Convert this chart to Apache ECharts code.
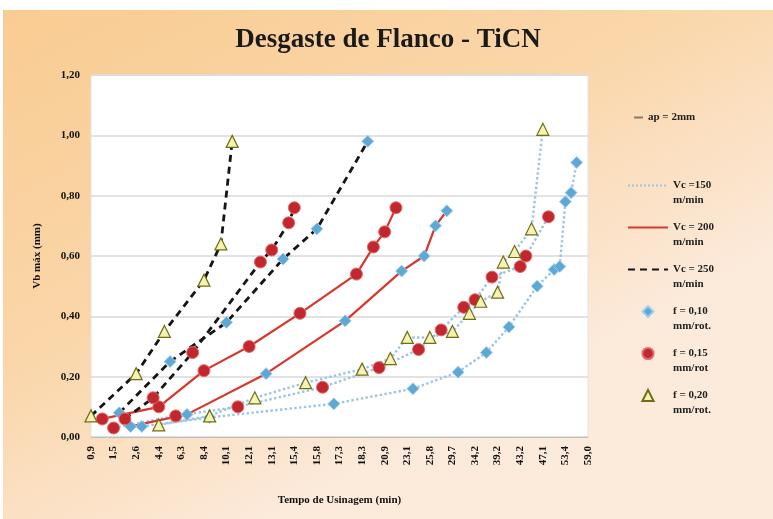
<!DOCTYPE html>
<html><head><meta charset="utf-8">
<script src="https://cdn.jsdelivr.net/npm/echarts@6/dist/echarts.min.js"></script>
<style>
html,body{margin:0;padding:0;background:#fff;}
#c{position:absolute;left:3px;top:10px;width:770px;height:509px;}
</style></head>
<body><div id="c"></div>
<script>
// Time categories (min); every 4th one is labelled on the axis
const categories = ['0.9','1.0','1.2','1.3','1.5','1.8','2.1','2.3','2.6','3.0','3.5','3.9','4.4','4.9','5.3','5.8','6.3','6.8','7.4','7.9','8.4','8.8','9.3','9.7','10.1','10.6','11.1','11.6','12.1','12.3','12.6','12.8','13.1','13.7','14.2','14.8','15.4','15.5','15.6','15.7','15.8','16.2','16.6','16.9','17.3','17.5','17.8','18.0','18.3','18.9','19.6','20.2','20.9','21.4','22.0','22.5','23.1','23.8','24.4','25.1','25.8','26.8','27.7','28.7','29.7','30.8','32.0','33.1','34.2','35.5','36.7','38.0','39.2','40.2','41.2','42.2','43.2','44.2','45.1','46.1','47.1','48.7','50.3','51.8','53.4','54.8','56.2','57.6','59.0'];

// Vb max (mm) series: [time, value]
const vc250_f020 = [['0.9',0.07],['2.6',0.21],['4.9',0.35],['8.4',0.52],['9.7',0.64],['10.6',0.98]];
const vc250_f015 = [['2.1',0.06],['3.9',0.13],['7.4',0.28],['12.6',0.58],['13.1',0.62],['14.8',0.71],['15.4',0.76]];
const vc250_f010 = [['1.8',0.08],['5.3',0.25],['10.1',0.38],['14.2',0.59],['15.8',0.69],['18.9',0.98]];
const vc200_f015 = [['1.2',0.06],['4.4',0.10],['8.4',0.22],['12.1',0.30],['15.5',0.41],['18.0',0.54],['19.6',0.63],['20.9',0.68],['22.0',0.76]];
const vc200_f010 = [['2.3',0.035],['6.8',0.075],['12.8',0.21],['17.5',0.385],['22.5',0.55],['25.1',0.60],['26.8',0.70],['28.7',0.75]];
const vc150_f015 = [['1.5',0.03],['5.8',0.07],['11.1',0.10],['16.2',0.165],['20.2',0.23],['24.4',0.29],['27.7',0.355],['32.0',0.43],['34.2',0.455],['38.0',0.53],['43.2',0.565],['44.2',0.60],['48.7',0.73]];
const vc150_f020 = [['4.4',0.04],['8.8',0.07],['12.3',0.13],['15.6',0.18],['18.3',0.225],['21.4',0.26],['23.1',0.33],['25.8',0.33],['29.7',0.35],['33.1',0.41],['35.5',0.45],['39.2',0.48],['40.2',0.58],['42.2',0.615],['45.1',0.69],['47.1',1.02]];
const vc150_f010 = [['3.0',0.035],['8.8',0.065],['16.9',0.11],['23.8',0.16],['30.8',0.215],['36.7',0.28],['41.2',0.365],['46.1',0.50],['50.3',0.555],['51.8',0.565],['53.4',0.78],['54.8',0.81],['56.2',0.91]];

const titleText = 'Desgaste de Flanco - TiCN';
const yName = 'Vb máx (mm)';
const xName = 'Tempo de Usinagem (min)';
const legendVc = ['Vc =150\nm/min', 'Vc = 200\nm/min', 'Vc = 250\nm/min'];
const legendF = ['f = 0,10\nmm/rot.', 'f = 0,15\nmm/rot', 'f = 0,20\nmm/rot.'];
const noteText = 'ap = 2mm';

const FONT = 'Liberation Serif';
const lineStyles = {
  150: {type: 'dotted', color: '#9DC3E6', width: 2.4},
  200: {type: 'solid', color: '#D9362E', width: 2.2},
  250: {type: [7, 5], color: '#151515', width: 2.8}
};
const markers = {
  '010': {symbol: 'diamond', size: 12, style: {color: '#5DA8D5', borderColor: '#A3D2EE', borderWidth: 1}},
  '015': {symbol: 'circle', size: 12, style: {color: '#C1272D', borderColor: '#E46A6A', borderWidth: 1}},
  '020': {symbol: 'triangle', size: 12, style: {color: '#F5F2B4', borderColor: '#6E6E14', borderWidth: 1.2}}
};

function dataSeries(name, data, vc, f) {
  const m = markers[f];
  return {
    name: name, type: 'line', data: data, showAllSymbol: true,
    symbol: m.symbol, symbolSize: m.size, itemStyle: m.style,
    lineStyle: lineStyles[vc], silent: true, z: 3
  };
}

const series = [
  dataSeries('s150_010', vc150_f010, 150, '010'),
  dataSeries('s150_015', vc150_f015, 150, '015'),
  dataSeries('s150_020', vc150_f020, 150, '020'),
  dataSeries('s200_010', vc200_f010, 200, '010'),
  dataSeries('s200_015', vc200_f015, 200, '015'),
  dataSeries('s250_010', vc250_f010, 250, '010'),
  dataSeries('s250_015', vc250_f015, 250, '015'),
  dataSeries('s250_020', vc250_f020, 250, '020')
];
// legend-only entries
series.push({name: noteText, type: 'line', data: [], symbol: 'none', lineStyle: {color: '#8a7a6a', width: 1}});
[150, 200, 250].forEach((vc, i) => series.push({name: legendVc[i], type: 'line', data: [], symbol: 'none', lineStyle: lineStyles[vc]}));
['010', '015', '020'].forEach((f, i) => series.push({name: legendF[i], type: 'line', data: [], symbol: markers[f].symbol, symbolSize: markers[f].size, itemStyle: markers[f].style, lineStyle: {opacity: 0}}));

const legendItems = legendVc.map(n => ({name: n, itemStyle: {opacity: 0}}))
  .concat(legendF.map(n => ({name: n, lineStyle: {opacity: 0}})));

const chart = echarts.init(document.getElementById('c'), null, {renderer: 'canvas'});
chart.setOption({
  animation: false,
  backgroundColor: {type: 'linear', x: 0, y: 0, x2: 0.35, y2: 1, colorStops: [
    {offset: 0, color: '#F9CC92'}, {offset: 0.55, color: '#FAD6A9'}, {offset: 1, color: '#FCEADB'}]},
  title: {text: titleText, left: 'center', top: 12,
    textStyle: {fontFamily: FONT, fontWeight: 'bold', fontSize: 27, color: '#1a1a1a'}},
  legend: [
    {data: [{name: noteText, itemStyle: {opacity: 0}}], left: 630, top: 102, padding: 0, itemWidth: 9, itemHeight: 10,
      textStyle: {fontFamily: FONT, fontWeight: 'bold', fontSize: 11, color: '#222'}},
    {data: legendItems, orient: 'vertical', left: 624, top: 153, padding: 0,
      itemWidth: 40, itemHeight: 14, itemGap: -3,
      formatter: n => '\n' + n,
      textStyle: {fontFamily: FONT, fontWeight: 'bold', fontSize: 11, color: '#222', lineHeight: 15}}
  ],
  grid: {left: 88, top: 65, width: 497, height: 362, show: true, backgroundColor: '#ffffff', borderColor: '#e2e2e2', borderWidth: 1},
  xAxis: {
    type: 'category', data: categories, boundaryGap: false,
    name: xName, nameLocation: 'middle', nameGap: 58,
    nameTextStyle: {fontFamily: FONT, fontWeight: 'bold', fontSize: 11, color: '#111'},
    axisLine: {lineStyle: {color: '#bfbfbf'}}, axisTick: {show: false},
    axisLabel: {interval: 3, rotate: 90, margin: 9, fontFamily: FONT, fontWeight: 'bold', fontSize: 11, color: '#111',
      formatter: v => v.replace('.', ',')}
  },
  yAxis: {
    type: 'value', min: 0, max: 1.2, interval: 0.2,
    name: yName, nameLocation: 'middle', nameGap: 48, nameRotate: 90,
    nameTextStyle: {fontFamily: FONT, fontWeight: 'bold', fontSize: 11, color: '#111'},
    axisLine: {show: false}, axisTick: {show: false},
    splitLine: {lineStyle: {color: '#d9d9d9', width: 1.5}},
    axisLabel: {margin: 11, fontFamily: FONT, fontWeight: 'bold', fontSize: 11, color: '#111',
      formatter: v => v.toFixed(2).replace('.', ',')}
  },
  series: series
});
</script></body></html>
